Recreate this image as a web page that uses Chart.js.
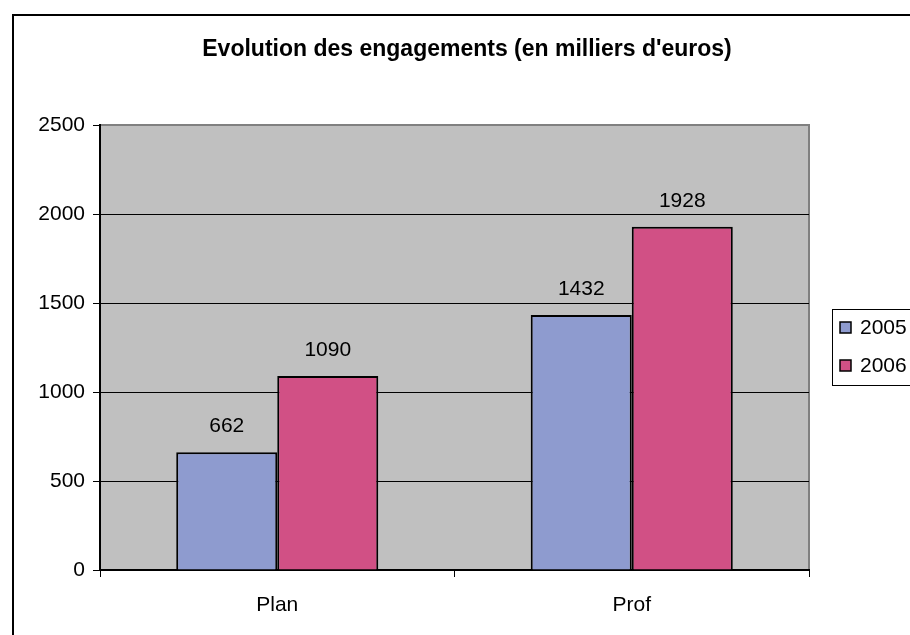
<!DOCTYPE html>
<html>
<head>
<meta charset="utf-8">
<script src="https://cdn.jsdelivr.net/npm/chart.js@4.4.1/dist/chart.umd.min.js"></script>
<style>
  html, body { margin: 0; padding: 0; background: #fff; }
  #wrap { width: 910px; height: 635px; position: relative; }
</style>
</head>
<body>
<div id="wrap"><canvas id="chart" width="910" height="635"></canvas></div>
<script>
const categories = ['Plan', 'Prof'];
const years = ['2005', '2006'];
const values2005 = [662, 1432];
const values2006 = [1090, 1928];
const yTicks = [0, 500, 1000, 1500, 2000, 2500];

const FONT = 'Arial, "Liberation Sans", sans-serif';

const frame = {
  id: 'frame',
  beforeDraw(chart) {
    const { ctx, chartArea: a } = chart;
    ctx.save();
    ctx.fillStyle = '#fff';
    ctx.fillRect(0, 0, chart.width, chart.height);
    // outer chart border (cropped on the right and bottom)
    ctx.strokeStyle = '#000';
    ctx.lineWidth = 2;
    ctx.strokeRect(13, 15, 920, 640);
    // plot area
    ctx.fillStyle = '#C0C0C0';
    ctx.fillRect(a.left, a.top, a.right - a.left, a.bottom - a.top);
    ctx.strokeStyle = '#808080';
    ctx.lineWidth = 2;
    ctx.strokeRect(a.left, a.top, a.right - a.left, a.bottom - a.top);
    // title
    ctx.fillStyle = '#000';
    ctx.font = 'bold 23px ' + FONT;
    ctx.textAlign = 'center';
    ctx.textBaseline = 'middle';
    ctx.fillText("Evolution des engagements (en milliers d'euros)", 467, 50);
    ctx.restore();
  },
  afterDraw(chart) {
    const { ctx } = chart;
    ctx.save();
    // value labels above bars
    ctx.fillStyle = '#000';
    ctx.font = '21px ' + FONT;
    ctx.textAlign = 'center';
    ctx.textBaseline = 'middle';
    chart.data.datasets.forEach((ds, i) => {
      chart.getDatasetMeta(i).data.forEach((bar, j) => {
        ctx.fillText(String(ds.data[j]), bar.x, bar.y - 26);
      });
    });
    // legend
    ctx.strokeStyle = '#000';
    ctx.lineWidth = 1;
    ctx.strokeRect(832.5, 309.5, 100, 76);
    ctx.font = '21px ' + FONT;
    ctx.textAlign = 'left';
    chart.data.datasets.forEach((ds, i) => {
      const y = 327 + i * 38;
      ctx.fillStyle = ds.backgroundColor;
      ctx.fillRect(840, y - 5, 11, 11);
      ctx.strokeStyle = '#000';
      ctx.lineWidth = 1.5;
      ctx.strokeRect(840, y - 5, 11, 11);
      ctx.fillStyle = '#000';
      ctx.fillText(ds.label, 860, y + 1);
    });
    ctx.restore();
  }
};

new Chart(document.getElementById('chart'), {
  type: 'bar',
  data: {
    labels: categories,
    datasets: [
      { label: years[0], data: values2005, backgroundColor: '#8E9BCF', borderColor: '#000', borderWidth: 2 },
      { label: years[1], data: values2006, backgroundColor: '#D15085', borderColor: '#000', borderWidth: 2 }
    ]
  },
  options: {
    responsive: false,
    animation: false,
    events: [],
    layout: { padding: { left: 12, right: 101, top: 125, bottom: 0 } },
    datasets: { bar: { categoryPercentage: 0.57, barPercentage: 1.0 } },
    plugins: {
      legend: { display: false },
      title: { display: false },
      tooltip: { enabled: false }
    },
    scales: {
      x: {
        afterFit(scale) { scale.height = 65; },
        grid: { display: true, drawOnChartArea: false, drawTicks: true, tickLength: 7, color: '#000', offset: true },
        border: { color: '#000', width: 2 },
        ticks: { color: '#000', font: { family: FONT, size: 21 }, padding: 16 }
      },
      y: {
        min: 0,
        max: 2500,
        afterFit(scale) { scale.width = 88; },
        afterBuildTicks(scale) { scale.ticks = yTicks.map(v => ({ value: v })); },
        grid: {
          color: (c) => (c.tick && c.tick.value === 2500) ? 'rgba(0,0,0,0)' : '#000',
          lineWidth: 1,
          tickLength: 7,
          drawTicks: true,
          tickColor: '#000'
        },
        border: { color: '#000', width: 2 },
        ticks: { color: '#000', font: { family: FONT, size: 21 }, padding: 8, callback: (v) => String(v) }
      }
    }
  },
  plugins: [frame]
});
</script>
</body>
</html>
